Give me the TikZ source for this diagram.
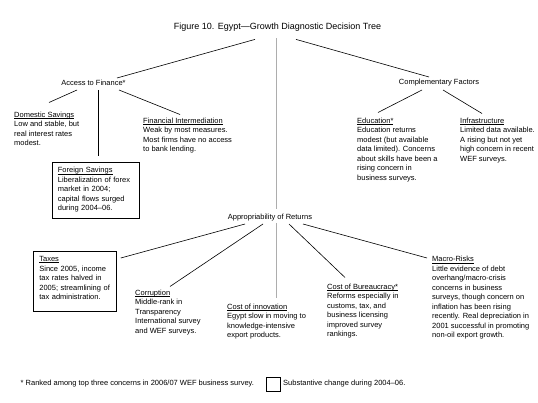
\documentclass[tikz,border=0pt]{standalone}
\usepackage{fontspec}
\setmainfont{Liberation Sans}
\usetikzlibrary{calc}
\newsavebox\hdrbox
\newcommand\hdr[1]{\sbox\hdrbox{#1}\smash{\rlap{\rule[-1.4pt]{\wd\hdrbox}{0.5pt}}}\usebox\hdrbox}
\begin{document}
\begin{tikzpicture}[x=1pt,y=-1pt,
  lbl/.style={inner sep=0pt, font=\fontsize{7.5}{9.5}\selectfont},
  txt/.style={inner sep=0pt, anchor=north west, align=left, font=\fontsize{7.5}{9.5}\selectfont},
  boxed/.style={draw, line width=0.8pt, anchor=north west, align=left, inner xsep=6pt, inner ysep=5pt, font=\fontsize{7.5}{9.5}\selectfont},
  conn/.style={line width=0.6pt},
  trunk/.style={line width=1.6pt, color=black!32}
]
\useasboundingbox (0,0) rectangle (538,403);

% title and main branches
\node[inner sep=0pt, font=\fontsize{9}{11}\selectfont] (title) at (277.5,27.4) {Figure 10. Egypt---Growth Diagnostic Decision Tree};
\node[lbl] (acc) at (93.5,83) {Access to Finance*};
\node[lbl] (comp) at (439,83) {Complementary Factors};
\node[lbl] (app) at (270,218) {Appropriability of Returns};

% access to finance leaves
\node[txt] (dom) at (14,111.5) {\hdr{Domestic Savings}\\Low and stable, but\\real interest rates\\modest.};
\node[txt] (fin) at (143,117.5) {\hdr{Financial Intermediation}\\Weak by most measures.\\Most firms have no access\\to bank lending.};
\node[boxed, text width=75.5pt] (fs) at (51.5,162) {\hdr{Foreign Savings}\\Liberalization of forex\\market in 2004;\\capital flows surged\\during 2004--06.\rule[-3pt]{0pt}{0pt}};

% complementary factors leaves
\node[txt] (edu) at (357,117.5) {\hdr{Education*}\\Education returns\\modest (but available\\data limited). Concerns\\about skills have been a\\rising concern in\\business surveys.};
\node[txt] (inf) at (460,117.5) {\hdr{Infrastructure}\\Limited data available.\\A rising but not yet\\high concern in recent\\WEF surveys.};

% appropriability leaves
\node[boxed, text width=71pt] (tax) at (33,251) {\hdr{Taxes}\\Since 2005, income\\tax rates halved in\\2005; streamlining of\\tax administration.\rule[-6.5pt]{0pt}{0pt}};
\node[txt] (corr) at (135,289.5) {\hdr{Corruption}\\Middle-rank in\\Transparency\\International survey\\and WEF surveys.};
\node[txt] (inno) at (227,303.5) {\hdr{Cost of innovation}\\Egypt slow in moving to\\knowledge-intensive\\export products.};
\node[txt] (bur) at (327,283.5) {\hdr{Cost of Bureaucracy*}\\Reforms especially in\\customs, tax, and\\business licensing\\improved survey\\rankings.};
\node[txt] (mac) at (432,256) {\hdr{Macro-Risks}\\Little evidence of debt\\overhang/macro-crisis\\concerns in business\\surveys, though concern on\\inflation has been rising\\recently. Real depreciation in\\2001 successful in promoting\\non-oil export growth.};

% connectors
\draw[conn] ($(title)+(-22.5,12)$) -- ($(acc)+(23.5,-5)$);
\draw[conn] ($(title)+(18.5,12)$) -- ($(comp)+(-10,-6)$);
\draw[trunk] ($(title)+(-1,11)$) -- ($(app)+(6.5,-9)$);
\draw[trunk] ($(app)+(6.5,5)$) -- ($(inno.north west)+(49.5,-5)$);

\draw[conn] ($(acc)+(-16.5,7)$) -- ($(dom.north west)+(35,-9)$);
\draw[conn] ($(acc)+(4.5,7)$) -- ($(fs.north west)+(46.5,-6)$);
\draw[conn] ($(acc)+(25.5,7)$) -- ($(fin.north west)+(37,-3)$);

\draw[conn] ($(comp)+(-17,7)$) -- ($(edu.north west)+(21,-5)$);
\draw[conn] ($(comp)+(4,7)$) -- ($(inf.north west)+(22,-4)$);

\draw[conn] ($(app)+(-25,6)$) -- ($(tax.north east)+(4,7)$);
\draw[conn] ($(app)+(-7,6)$) -- ($(corr.north west)+(35,-3)$);
\draw[conn] ($(app)+(19,6)$) -- ($(bur.north west)+(18,-6)$);
\draw[conn] ($(app)+(33,6)$) -- ($(mac.north west)+(-5,2)$);

% footer
\node[lbl, anchor=west] (noteA) at (20.5,384) {* Ranked among top three concerns in 2006/07 WEF business survey.};
\node[draw, line width=0.8pt, minimum width=14pt, minimum height=14pt, inner sep=0pt] (keybox) at (273.5,384) {};
\node[lbl, anchor=west] (noteB) at (283,384) {Substantive change during 2004--06.};
\end{tikzpicture}
\end{document}
